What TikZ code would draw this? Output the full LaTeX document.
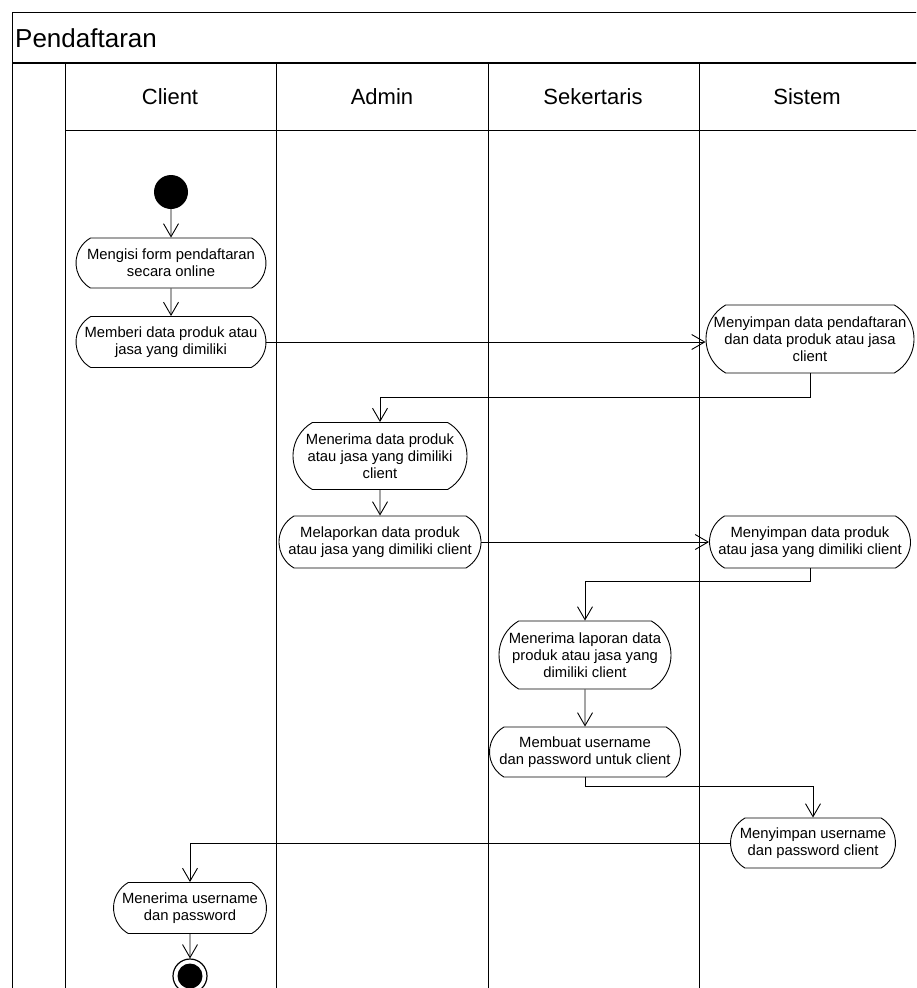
\documentclass[tikz,border=0pt]{standalone}
\usepackage{fontspec}
\setmainfont{Liberation Sans}
\usetikzlibrary{arrows.meta,shapes.misc}

\begin{document}
\begin{tikzpicture}[x=1pt,y=-1pt,
  frameline/.style={line width=1pt},
  act/.style={draw, line width=0.9pt, rounded rectangle, rounded rectangle arc length=120,
    align=center, inner sep=1pt, font=\fontsize{14.8}{17}\selectfont},
  flow/.style={line width=0.9pt, -{Straight Barb[length=13pt,width=15pt,line width=0.9pt]}},
  lanetitle/.style={font=\fontsize{22}{26}\selectfont},
]
\useasboundingbox (0,0) rectangle (916,988);

% swimlane frame
\begin{scope}
  \clip (0,0) rectangle (916,988);
  \draw[frameline] (12,1000) -- (12,12) -- (930,12);
  \draw[line width=2pt] (12,63) -- (930,63);
  \draw[frameline] (65,63) -- (65,1000);
  \draw[frameline] (65,130) -- (930,130);
  \draw[frameline] (276,63) -- (276,1000);
  \draw[frameline] (488,63) -- (488,1000);
  \draw[frameline] (699,63) -- (699,1000);
\end{scope}

\node[anchor=west, font=\fontsize{26}{30}\selectfont, inner sep=0] (title) at (15,38) {Pendaftaran};
\node[lanetitle] (hclient) at (170,97) {Client};
\node[lanetitle] (hadmin) at (382,97) {Admin};
\node[lanetitle] (hsek) at (593,97) {Sekertaris};
\node[lanetitle] (hsis) at (807,97) {Sistem};

% activities
\node[circle, fill, minimum size=34pt, inner sep=0] (start) at (171,192) {};
\node[act, minimum width=192pt, minimum height=50pt] (a1) at (171,263)
  {Mengisi form pendaftaran\\secara online};
\node[act, minimum width=192pt, minimum height=51pt] (a2) at (171,342)
  {Memberi data produk atau\\jasa yang dimiliki};
\node[act, minimum width=210pt, minimum height=68pt] (s1) at (810,339)
  {Menyimpan data pendaftaran\\dan data produk atau jasa\\client};
\node[act, minimum width=176pt, minimum height=67pt] (m1) at (380,456)
  {Menerima data produk\\atau jasa yang dimiliki\\client};
\node[act, minimum width=204pt, minimum height=52pt] (m2) at (380,542)
  {Melaporkan data produk\\atau jasa yang dimiliki client};
\node[act, minimum width=203pt, minimum height=52pt] (s2) at (810,542)
  {Menyimpan data produk\\atau jasa yang dimiliki client};
\node[act, minimum width=174pt, minimum height=68pt] (k1) at (585,655)
  {Menerima laporan data\\produk atau jasa yang\\dimiliki client};
\node[act, minimum width=193pt, minimum height=50pt] (k2) at (585,752)
  {Membuat username\\dan password untuk client};
\node[act, minimum width=167pt, minimum height=50pt] (s3) at (813,843)
  {Menyimpan username\\dan password client};
\node[act, minimum width=155pt, minimum height=51pt] (c3) at (190,908)
  {Menerima username\\dan password};
\node[circle, draw, line width=1.2pt, minimum size=34pt, inner sep=0] (end) at (190,976) {};
\fill (end.center) circle (12.5pt);

% control flow
\draw[flow] (start) -- (a1);
\draw[flow] (a1) -- (a2);
\draw[flow] (a2.east) -- (a2.east -| s1.west);
\draw[flow] (s1.south) -- ++(0,24) -| (m1.north);
\draw[flow] (m1) -- (m2);
\draw[flow] (m2.east) -- (m2.east -| s2.west);
\draw[flow] (s2.south) -- ++(0,13) -| (k1.north);
\draw[flow] (k1) -- (k2);
\draw[flow] (k2.south) -- ++(0,9) -| (s3.north);
\draw[flow] (s3.west) -| (c3.north);
\draw[flow] (c3) -- (end);
\end{tikzpicture}
\end{document}
